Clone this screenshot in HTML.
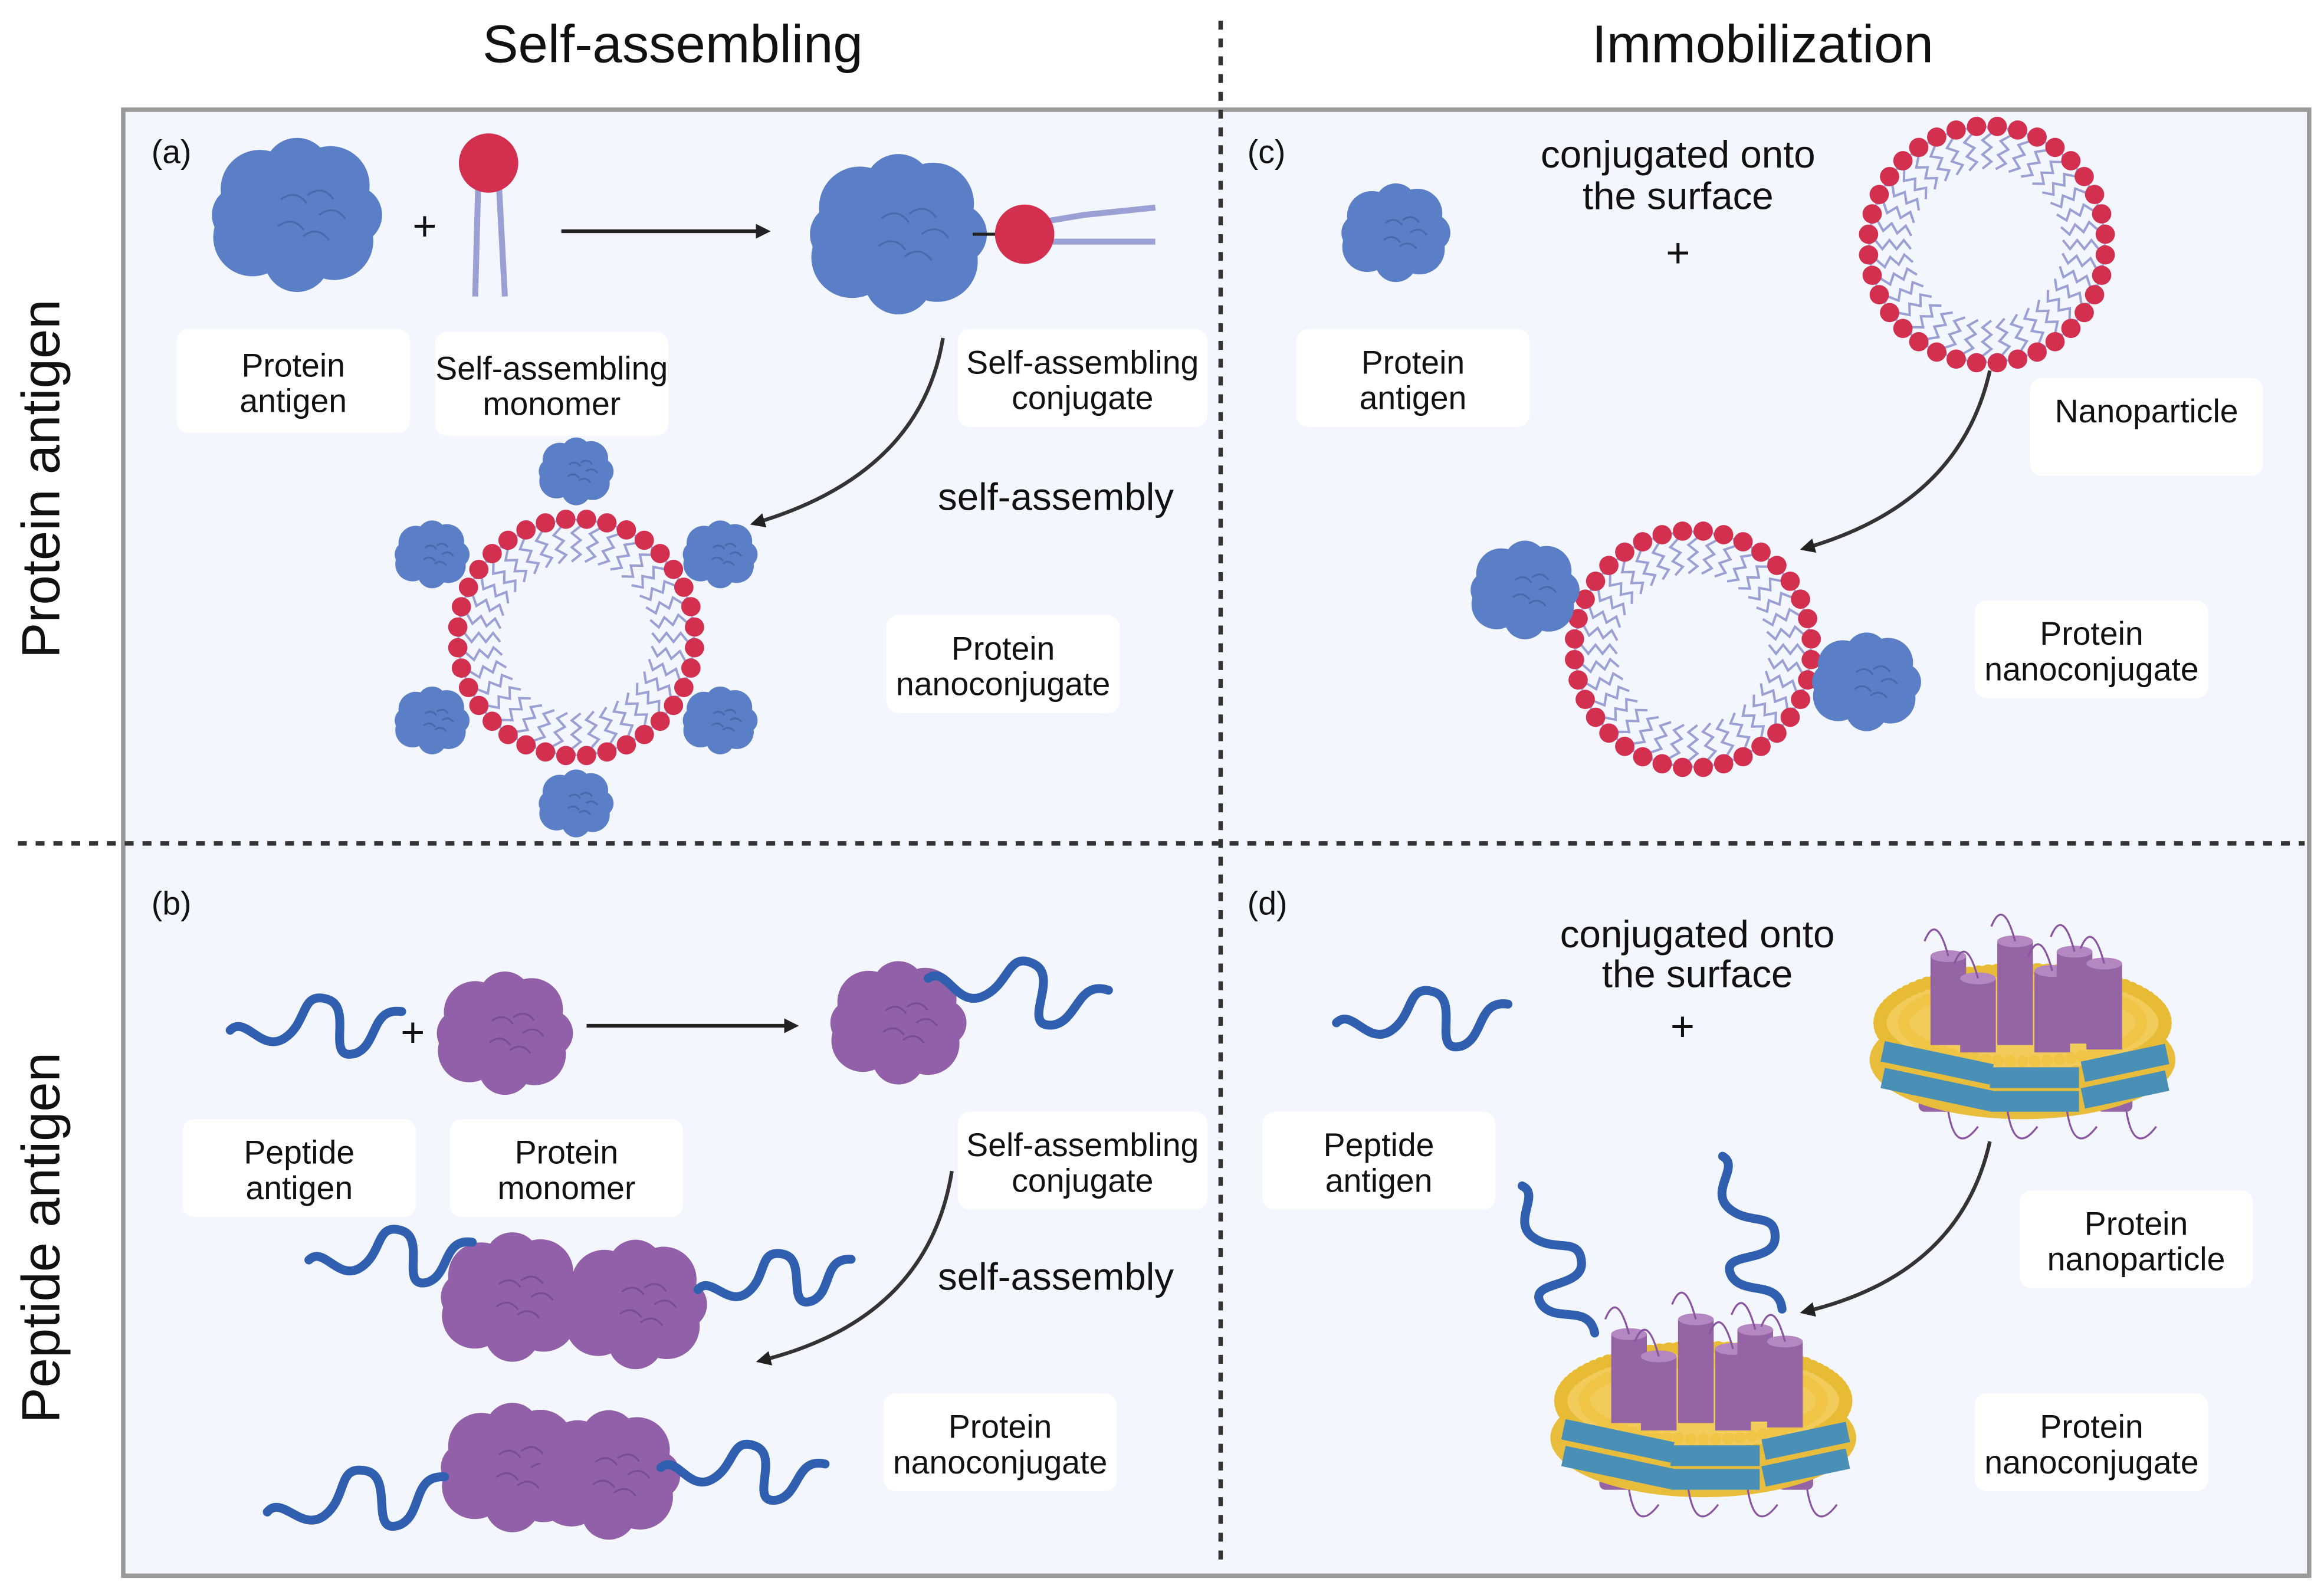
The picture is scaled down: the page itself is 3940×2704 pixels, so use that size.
<!DOCTYPE html>
<html><head><meta charset="utf-8">
<style>
html,body{margin:0;padding:0;background:#fff;}
svg{display:block;}
text{font-family:"Liberation Sans",sans-serif;fill:#111;}
</style></head>
<body>
<svg id="s" width="3940" height="2704" viewBox="0 0 1565 1076" preserveAspectRatio="none" xmlns="http://www.w3.org/2000/svg">
<defs>
<marker id="ah" markerWidth="10" markerHeight="10" refX="7" refY="5" orient="auto" markerUnits="userSpaceOnUse"><path d="M0,0 L10,5 L0,10 Z" fill="#222"/></marker>
</defs>
<rect x="0" y="0" width="1565" height="1076" fill="#fff"/>
<rect x="83" y="74" width="1472" height="989" fill="#f3f7fd" stroke="#9a9a9a" stroke-width="3"/>
<line x1="822" y1="14" x2="822" y2="1056" stroke="#333" stroke-width="3" stroke-dasharray="6,6"/>
<line x1="12" y1="569" x2="1552" y2="569" stroke="#333" stroke-width="3" stroke-dasharray="6,6"/>
<text x="453" y="42" font-size="36" text-anchor="middle">Self-assembling</text>
<text x="1187" y="42" font-size="36" text-anchor="middle">Immobilization</text>
<text transform="translate(40,323) rotate(-90)" font-size="36" text-anchor="middle">Protein antigen</text>
<text transform="translate(40,835) rotate(-90)" font-size="36" text-anchor="middle">Peptide antigen</text>
<g font-size="22"><text x="102" y="110">(a)</text><text x="102" y="617">(b)</text><text x="840" y="110">(c)</text><text x="840" y="617">(d)</text></g>
<g id="dyn"></g>
<g id="labels" font-size="22" text-anchor="middle"></g>
</svg>
<script>
const NS="http://www.w3.org/2000/svg";
const dyn=document.getElementById('dyn'), lab=document.getElementById('labels');
function el(p,tag,a){const e=document.createElementNS(NS,tag);for(const k in a)e.setAttribute(k,a[k]);p.appendChild(e);return e;}
function box(x,y,w,h,l1,l2,cx){el(lab,'rect',{x,y,width:w,height:h,rx:8,fill:'#fff'});cx=cx||x+w/2;
 let t=el(lab,'text',{x:cx,y:y+h/2-3});t.textContent=l1;if(l2){t=el(lab,'text',{x:cx,y:y+h/2+21});t.textContent=l2;}}
function txt(x,y,s,fs){const t=el(dyn,'text',{x,y,'font-size':fs||26,'text-anchor':'middle'});t.textContent=s;}
function blob(cx,cy,r,c,dark){const g=el(dyn,'g',{});
 const pts=[[0,0,1],[-.5,-.35,.6],[.45,-.4,.6],[-.6,.3,.6],[.5,.35,.6],[0,-.6,.5],[0,.6,.5],[-.75,0,.45],[.75,0,.45]];
 pts.forEach(p=>el(g,'circle',{cx:cx+p[0]*r,cy:cy+p[1]*r,r:p[2]*r*0.88,fill:c}));
 for(let i=0;i<5;i++){const a=i*1.3;el(g,'path',{d:`M${cx+Math.cos(a)*r*.3},${cy+Math.sin(a)*r*.3} q${r*.2},${-r*.15} ${r*.35},${r*.05}`,stroke:dark,'stroke-width':1.2,fill:'none',opacity:.6});}
}
const BL='#5b7fc7',BLD='#3c5a9c',PU='#9160a8',PUD='#6c3f82';
function vesicle(cx,cy,R){const n=36;
 for(let i=0;i<n;i++){const a=i/n*2*Math.PI,c=Math.cos(a),s=Math.sin(a);
  let d=`M${cx+c*R},${cy+s*R}`;const steps=6;
  for(let k=1;k<=steps;k++){const rr=R-k*(R*0.36/steps),off=(k%2?3:-3);d+=` L${cx+c*rr-s*off},${cy+s*rr+c*off}`;}
  el(dyn,'path',{d,stroke:'#9aa0d4','stroke-width':1.6,fill:'none'});
 }
 for(let i=0;i<n;i++){const a=(i+0.5)/n*2*Math.PI;el(dyn,'circle',{cx:cx+Math.cos(a)*R,cy:cy+Math.sin(a)*R,r:6.5,fill:'#d3304f'});}
}
function arrow(x1,y1,x2,y2){el(dyn,'line',{x1,y1,x2,y2,stroke:'#222','stroke-width':2.5,'marker-end':'url(#ah)'});}
function curve(x1,y1,x2,y2,cx,cy){el(dyn,'path',{d:`M${x1},${y1} Q${cx},${cy} ${x2},${y2}`,stroke:'#333','stroke-width':2.5,fill:'none','marker-end':'url(#ah)'});}
function squig(x,y,sc,rot,c){const g=el(dyn,'g',{transform:`translate(${x},${y}) rotate(${rot||0}) scale(${sc})`});
 el(g,'path',{d:'M0,0 C10,-10 20,15 35,5 C50,-5 45,-25 62,-20 C80,-15 60,20 80,15 C95,10 90,-15 110,-12',stroke:c||'#2f5fae','stroke-width':6/sc,fill:'none','stroke-linecap':'round'});}
function disc(cx,cy){const g=el(dyn,'g',{});
 for(const x of [-70,-40,-10,20,50]) el(g,'rect',{x:cx+x,y:cy+25,width:24,height:35,rx:4,fill:'#9464a4'});
 el(g,'ellipse',{cx,cy:cy+25,rx:103,ry:40,fill:'#e9bd3c'});
 el(g,'ellipse',{cx,cy,rx:100,ry:40,fill:'#f2cc5a'});
 for(let i=0;i<90;i++){const a=i/90*2*Math.PI;el(g,'circle',{cx:cx+Math.cos(a)*96,cy:cy+Math.sin(a)*36,r:4.5,fill:'#e8bb34'});}
 for(let i=0;i<60;i++){const a=i/60*2*Math.PI;el(g,'circle',{cx:cx+Math.cos(a)*80,cy:cy+Math.sin(a)*26,r:4,fill:'#f0c545'});}
 for(const [x,y,h] of [[-50,-45,60],[-30,-30,50],[-5,-55,70],[20,-35,55],[35,-48,62],[55,-40,58]]){
  el(g,'rect',{x:cx+x-12,y:cy+y,width:24,height:h,fill:'#9464a4'});el(g,'ellipse',{cx:cx+x,cy:cy+y,rx:12,ry:4,fill:'#b486c2'});
  el(g,'path',{d:`M${cx+x},${cy+y} q-8,-30 -16,-10`,stroke:'#8a55a0','stroke-width':1.3,fill:'none'});}
 for(const [x,y,w,r] of [[-95,20,75,12],[-95,38,75,12],[-22,30,60,0],[-22,46,60,0],[40,20,58,-12],[40,38,58,-12]])
  el(g,'rect',{x:cx+x,y:cy+y,width:w,height:14,fill:'#4a8fb6',transform:`rotate(${r} ${cx+x+w/2} ${cy+y+7})`});
 for(const x of [-50,-10,30,70]) el(g,'path',{d:`M${cx+x},${cy+60} q5,30 20,10`,stroke:'#8a55a0','stroke-width':1.3,fill:'none'});
}
// (a)
blob(200,145,50,BL,BLD);txt(286,162,'+',28);
el(dyn,'line',{x1:322,y1:125,x2:320,y2:200,stroke:'#9aa0d4','stroke-width':4});
el(dyn,'line',{x1:336,y1:125,x2:340,y2:200,stroke:'#9aa0d4','stroke-width':4});
el(dyn,'circle',{cx:329,cy:110,r:20,fill:'#d3304f'});
arrow(378,156,516,156);
blob(605,158,52,BL,BLD);el(dyn,'line',{x1:655,y1:158,x2:672,y2:158,stroke:'#222','stroke-width':2});
el(dyn,'path',{d:'M700,150 L730,145 L778,140 M700,163 L778,163',stroke:'#9aa0d4','stroke-width':4,fill:'none'});
el(dyn,'circle',{cx:690,cy:158,r:20,fill:'#d3304f'});
curve(635,228,508,353,620,320);
vesicle(388,430,80);
for(let i=0;i<6;i++){const a=-Math.PI/2+i*Math.PI/3;blob(388+Math.cos(a)*112,430+Math.sin(a)*112,22,BL,BLD);}
txt(711,344,'self-assembly',26);
// (c)
blob(940,157,32,BL,BLD);txt(1130,113,'conjugated onto',26);txt(1130,141,'the surface',26);txt(1130,180,'+',28);
vesicle(1338,165,80);
curve(1340,250,1215,370,1320,340);
vesicle(1140,438,80);blob(1027,398,32,BL,BLD);blob(1257,460,32,BL,BLD);
// (b)
squig(155,695,1.05,0);txt(278,706,'+',28);blob(340,697,40,PU,PUD);
arrow(395,692,535,692);blob(605,690,40,PU,PUD);squig(625,660,1.1,10);
curve(641,790,512,918,625,890);
blob(345,875,42,PU,PUD);blob(428,880,42,PU,PUD);blob(345,990,42,PU,PUD);blob(410,995,42,PU,PUD);
squig(208,850,1.0,0);squig(470,870,0.95,-5);squig(180,1020,1.1,-5);squig(445,990,1.0,5);
txt(711,870,'self-assembly',26);
// (d)
squig(900,690,1.05,0);txt(1143,639,'conjugated onto',26);txt(1143,666,'the surface',26);txt(1133,702,'+',28);
disc(1362,690);
curve(1340,770,1215,885,1320,860);
disc(1147,945);
squig(1025,800,1.0,70);squig(1160,780,1.0,75);
// labels
box(119,222,157,70,'Protein','antigen');
box(293,224,157,70,'Self-assembling','monomer');
box(645,222,168,66,'Self-assembling','conjugate');
box(597,415,157,66,'Protein','nanoconjugate');
box(873,222,157,66,'Protein','antigen');
box(1367,255,157,66,'Nanoparticle');
box(1330,405,157,66,'Protein','nanoconjugate');
box(123,755,157,66,'Peptide','antigen');
box(303,755,157,66,'Protein','monomer');
box(645,750,168,66,'Self-assembling','conjugate');
box(595,940,157,66,'Protein','nanoconjugate');
box(850,750,157,66,'Peptide','antigen');
box(1360,803,157,66,'Protein','nanoparticle');
box(1330,940,157,66,'Protein','nanoconjugate');
</script>
</body></html>
